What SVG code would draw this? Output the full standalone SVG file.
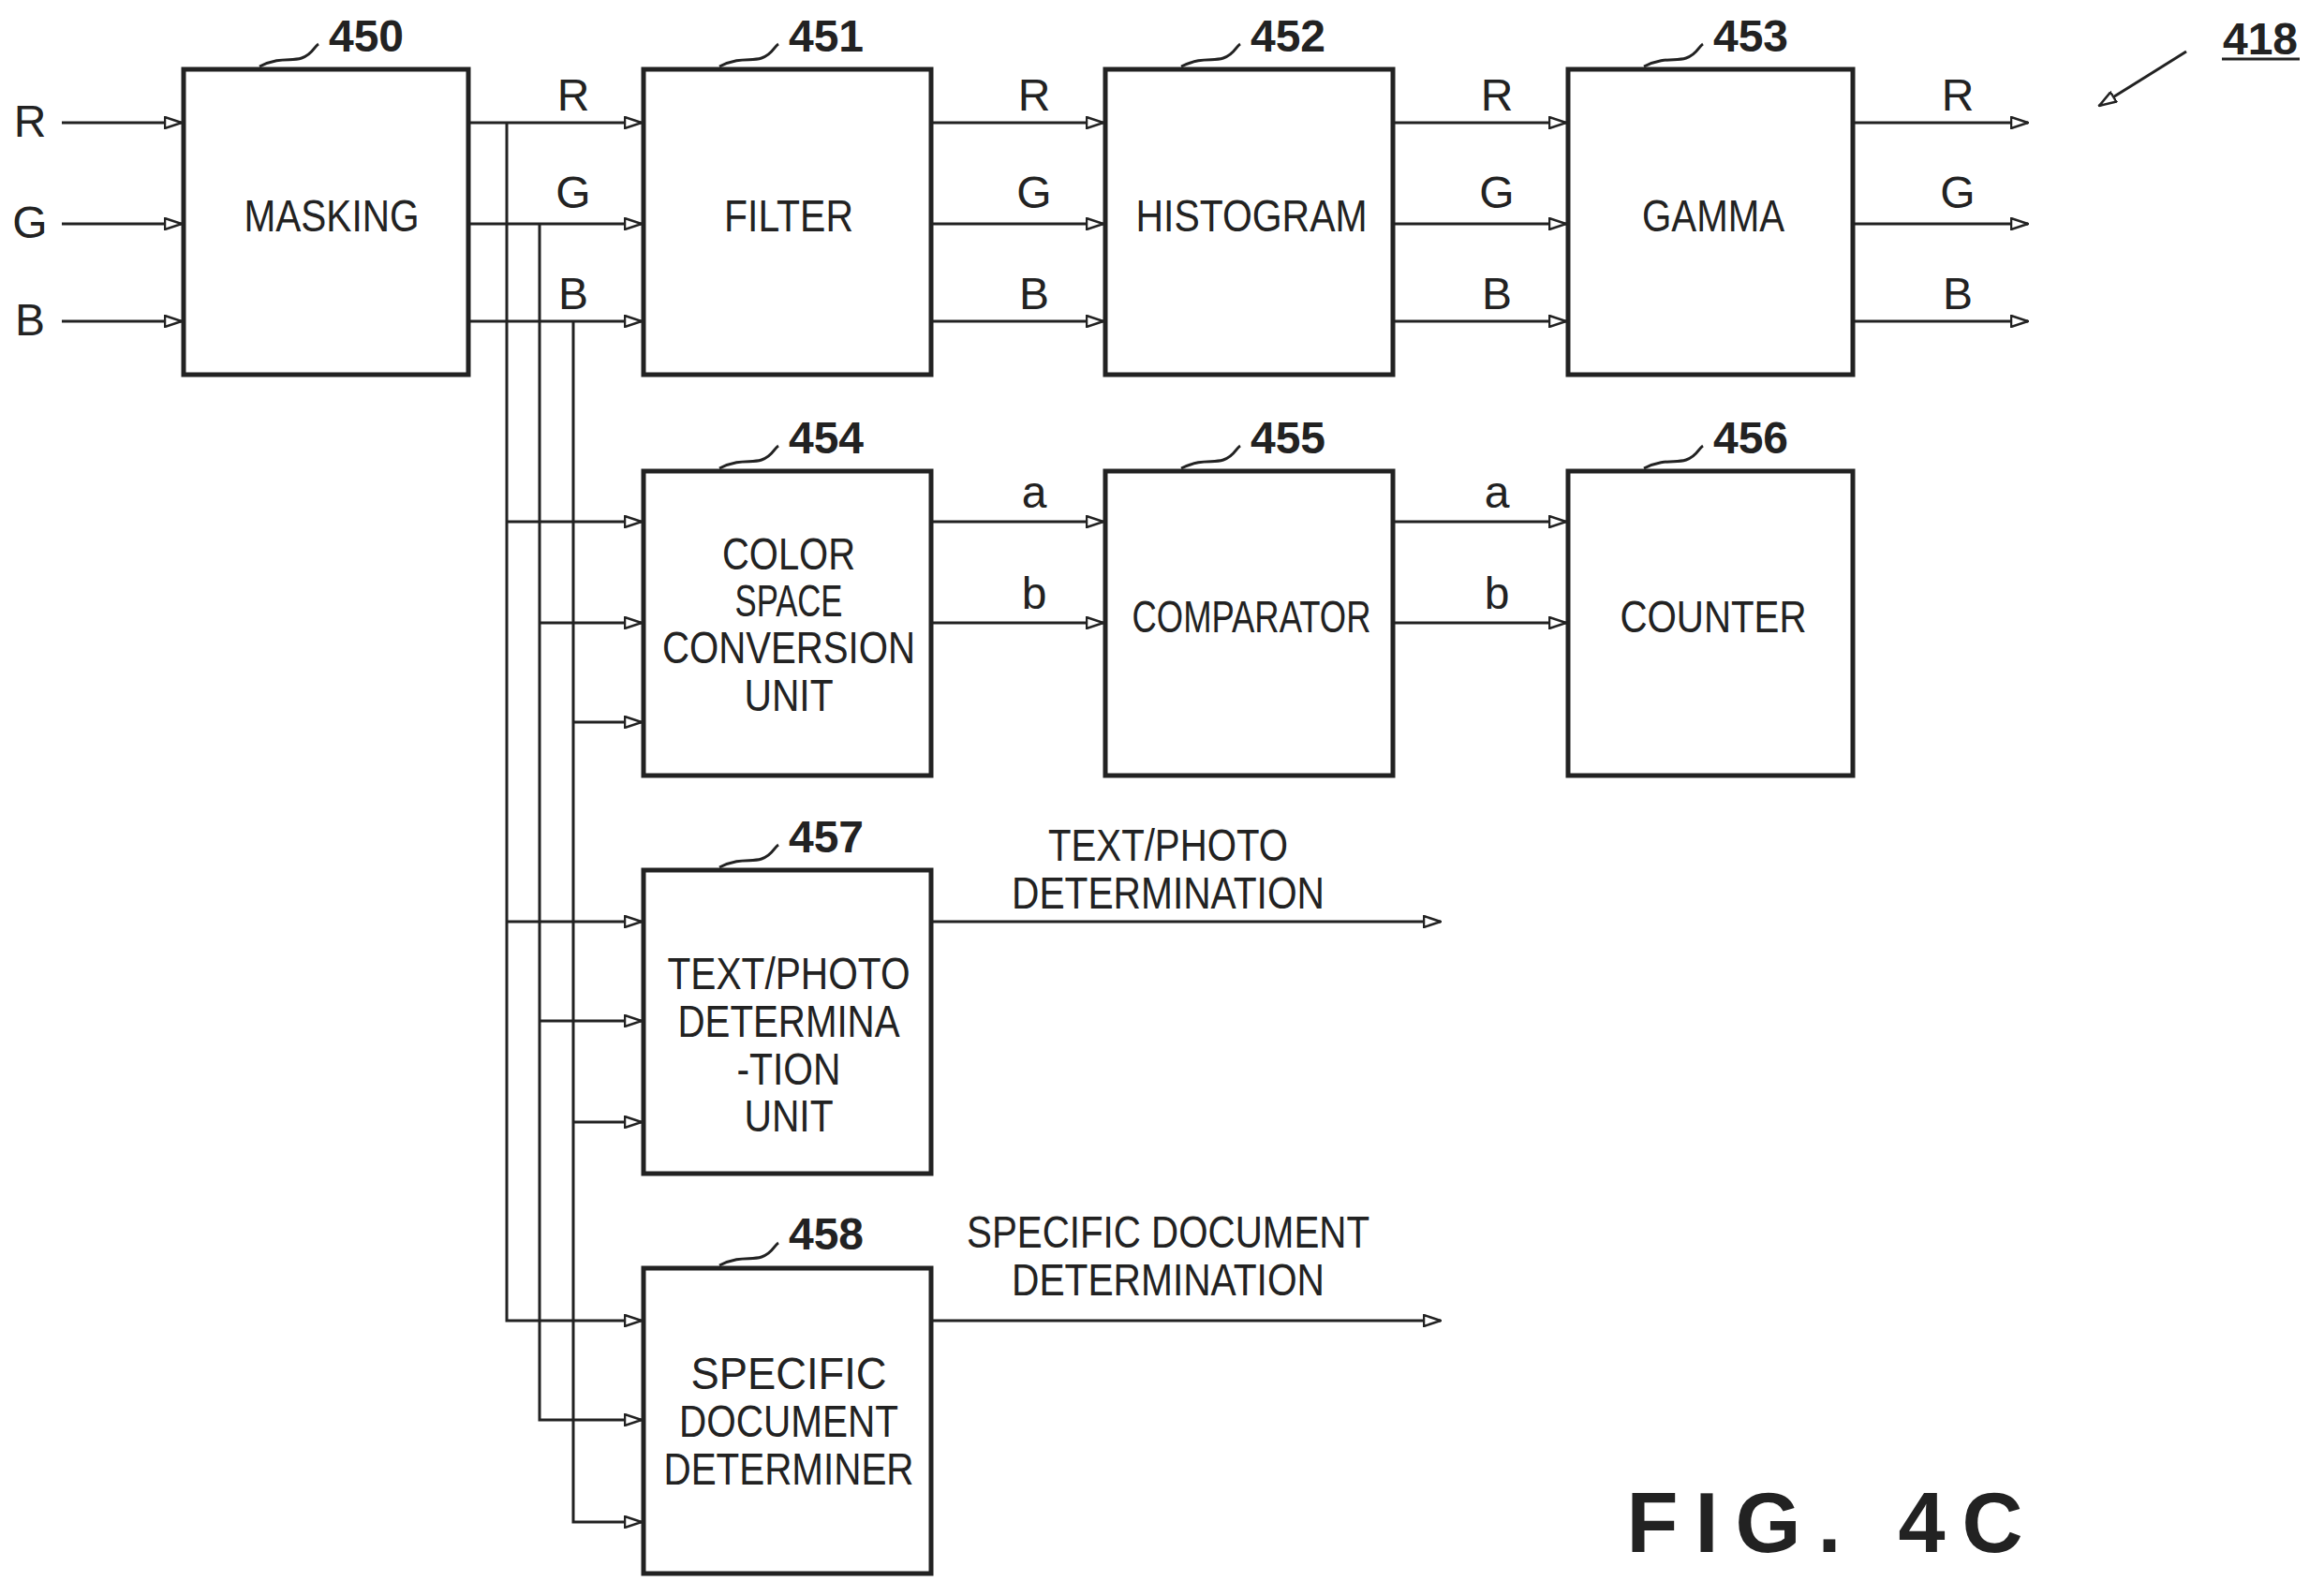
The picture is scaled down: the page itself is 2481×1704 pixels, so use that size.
<svg xmlns="http://www.w3.org/2000/svg" width="2481" height="1704" viewBox="0 0 2481 1704">
<style>
.b{fill:#fff;stroke:#222;stroke-width:5}
.l{fill:none;stroke:#222;stroke-width:3}
.t{font-family:"Liberation Sans",Arial,sans-serif;font-size:48px;fill:#222;text-anchor:middle}
.n{font-family:"Liberation Sans",Arial,sans-serif;font-size:48px;font-weight:bold;fill:#222;text-anchor:middle}
</style>
<defs><marker id="a" markerWidth="20" markerHeight="14" refX="19" refY="7" orient="auto" markerUnits="userSpaceOnUse"><path d="M1,1 L19,7 L1,13 Z" fill="#fff" stroke="#222" stroke-width="2.5"/></marker></defs>
<rect width="2481" height="1704" fill="#fff"/>
<g id="connectors" class="l" marker-end="url(#a)">
<path d="M66,131H194"/><path d="M66,239H194"/><path d="M66,343H194"/>
<path d="M500,131H685"/><path d="M500,239H685"/><path d="M500,343H685"/>
<path d="M994,131H1178"/><path d="M994,239H1178"/><path d="M994,343H1178"/>
<path d="M1487,131H1672"/><path d="M1487,239H1672"/><path d="M1487,343H1672"/>
<path d="M1978,131H2165"/><path d="M1978,239H2165"/><path d="M1978,343H2165"/>
<path d="M541,131V1410H685"/>
<path d="M576,239V1516H685"/>
<path d="M612,343V1625H685"/>
<path d="M541,557H685"/><path d="M576,665H685"/><path d="M612,771H685"/>
<path d="M541,984H685"/><path d="M576,1090H685"/><path d="M612,1198H685"/>
<path d="M994,557H1178"/><path d="M994,665H1178"/>
<path d="M1487,557H1672"/><path d="M1487,665H1672"/>
<path d="M994,984H1538"/><path d="M994,1410H1538"/>
<path d="M2334,55L2241,113"/>
</g>
<g class="l">
<path d="M277,71C300,60 310,66 322,62S335,50 340,47"/>
<path d="M768,71C791,60 801,66 813,62S826,50 831,47"/>
<path d="M1261,71C1284,60 1294,66 1306,62S1319,50 1324,47"/>
<path d="M1755,71C1778,60 1788,66 1800,62S1813,50 1818,47"/>
<path d="M768,500C791,489 801,495 813,491S826,479 831,476"/>
<path d="M1261,500C1284,489 1294,495 1306,491S1319,479 1324,476"/>
<path d="M1755,500C1778,489 1788,495 1800,491S1813,479 1818,476"/>
<path d="M768,926C791,915 801,921 813,917S826,905 831,902"/>
<path d="M768,1351C791,1340 801,1346 813,1342S826,1330 831,1327"/>
<path d="M2372,63H2455"/>
</g>
<g class="t">
<text x="32" y="146">R</text><text x="32" y="254">G</text><text x="32" y="358">B</text>
<text x="612" y="118">R</text><text x="612" y="222">G</text><text x="612" y="330">B</text>
<text x="1104" y="118">R</text><text x="1104" y="222">G</text><text x="1104" y="330">B</text>
<text x="1598" y="118">R</text><text x="1598" y="222">G</text><text x="1598" y="330">B</text>
<text x="2090" y="118">R</text><text x="2090" y="222">G</text><text x="2090" y="330">B</text>
<text x="1104" y="542">a</text><text x="1104" y="650">b</text>
<text x="1598" y="542">a</text><text x="1598" y="650">b</text>
<text x="1247" y="919" textLength="256" lengthAdjust="spacingAndGlyphs">TEXT/PHOTO</text><text x="1247" y="970" textLength="334" lengthAdjust="spacingAndGlyphs">DETERMINATION</text>
<text x="1247" y="1332" textLength="430" lengthAdjust="spacingAndGlyphs">SPECIFIC DOCUMENT</text><text x="1247" y="1383" textLength="334" lengthAdjust="spacingAndGlyphs">DETERMINATION</text>
</g>
<g id="n418"><text class="n" x="2413" y="58">418</text></g>
<g id="n450"><rect class="b" x="196" y="74" width="304" height="326"/><text class="n" x="391" y="55">450</text><text class="t" x="354" y="247" textLength="187" lengthAdjust="spacingAndGlyphs">MASKING</text></g>
<g id="n451"><rect class="b" x="687" y="74" width="307" height="326"/><text class="n" x="882" y="55">451</text><text class="t" x="842" y="247" textLength="138" lengthAdjust="spacingAndGlyphs">FILTER</text></g>
<g id="n452"><rect class="b" x="1180" y="74" width="307" height="326"/><text class="n" x="1375" y="55">452</text><text class="t" x="1336" y="247" textLength="247" lengthAdjust="spacingAndGlyphs">HISTOGRAM</text></g>
<g id="n453"><rect class="b" x="1674" y="74" width="304" height="326"/><text class="n" x="1869" y="55">453</text><text class="t" x="1829" y="247" textLength="152" lengthAdjust="spacingAndGlyphs">GAMMA</text></g>
<g id="n454"><rect class="b" x="687" y="503" width="307" height="325"/><text class="n" x="882" y="484">454</text>
<text class="t" x="842" y="608" textLength="142" lengthAdjust="spacingAndGlyphs">COLOR</text><text class="t" x="842" y="658" textLength="115" lengthAdjust="spacingAndGlyphs">SPACE</text><text class="t" x="842" y="708" textLength="270" lengthAdjust="spacingAndGlyphs">CONVERSION</text><text class="t" x="842" y="759" textLength="95" lengthAdjust="spacingAndGlyphs">UNIT</text></g>
<g id="n455"><rect class="b" x="1180" y="503" width="307" height="325"/><text class="n" x="1375" y="484">455</text><text class="t" x="1336" y="675" textLength="255" lengthAdjust="spacingAndGlyphs">COMPARATOR</text></g>
<g id="n456"><rect class="b" x="1674" y="503" width="304" height="325"/><text class="n" x="1869" y="484">456</text><text class="t" x="1829" y="675" textLength="199" lengthAdjust="spacingAndGlyphs">COUNTER</text></g>
<g id="n457"><rect class="b" x="687" y="929" width="307" height="324"/><text class="n" x="882" y="910">457</text>
<text class="t" x="842" y="1056" textLength="259" lengthAdjust="spacingAndGlyphs">TEXT/PHOTO</text><text class="t" x="842" y="1107" textLength="237" lengthAdjust="spacingAndGlyphs">DETERMINA</text><text class="t" x="842" y="1158" textLength="111" lengthAdjust="spacingAndGlyphs">-TION</text><text class="t" x="842" y="1208" textLength="95" lengthAdjust="spacingAndGlyphs">UNIT</text></g>
<g id="n458"><rect class="b" x="687" y="1354" width="307" height="326"/><text class="n" x="882" y="1334">458</text>
<text class="t" x="842" y="1483" textLength="209" lengthAdjust="spacingAndGlyphs">SPECIFIC</text><text class="t" x="842" y="1534" textLength="234" lengthAdjust="spacingAndGlyphs">DOCUMENT</text><text class="t" x="842" y="1585" textLength="267" lengthAdjust="spacingAndGlyphs">DETERMINER</text></g>
<text x="1957" y="1657" font-family="Liberation Sans,Arial,sans-serif" font-size="90" font-weight="bold" letter-spacing="18" text-anchor="middle" fill="#222">FIG. 4C</text>
</svg>
